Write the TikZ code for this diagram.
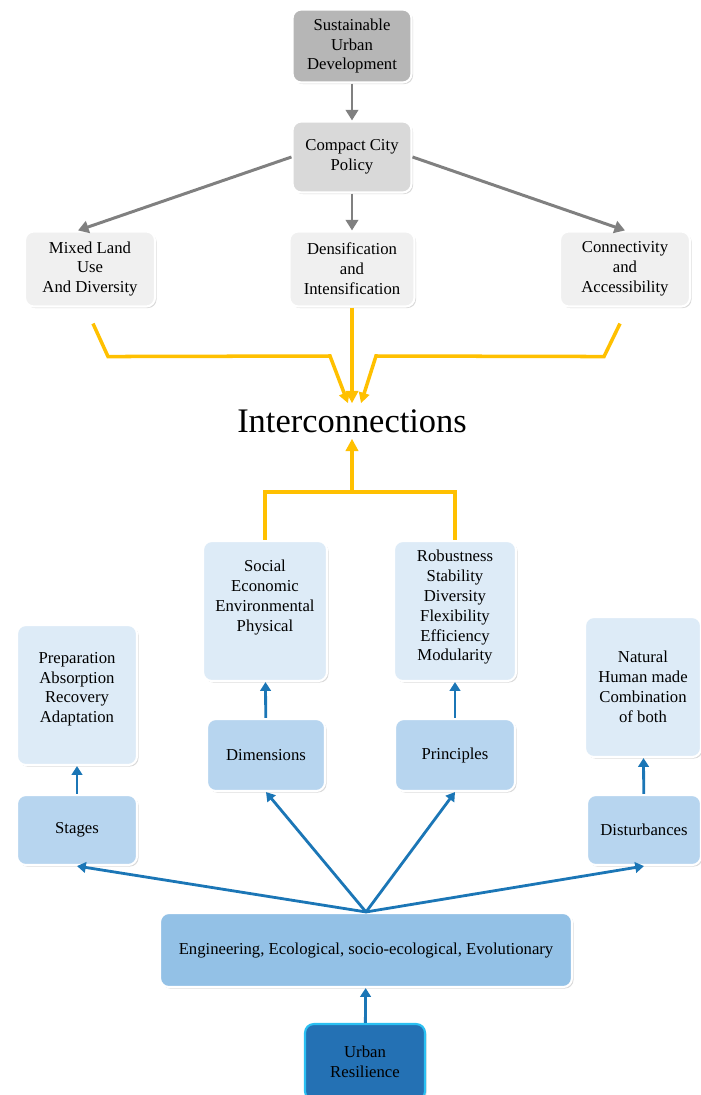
\documentclass[tikz,border=0pt]{standalone}
\usepackage{fontspec}
\setmainfont{Liberation Serif}
\usepackage{tikz}
\usetikzlibrary{positioning,arrows.meta,calc,shadows}
\definecolor{topgray}{HTML}{B6B6B6}
\definecolor{midgray}{HTML}{D9D9D9}
\definecolor{lowgray}{HTML}{F0F0F0}
\definecolor{paleblue}{HTML}{DDEBF7}
\definecolor{softblue}{HTML}{B7D5EF}
\definecolor{baseblue}{HTML}{93C1E6}
\definecolor{deepblue}{HTML}{2471B4}
\definecolor{rimblue}{HTML}{2BC0F2}
\definecolor{linkgray}{HTML}{808080}
\definecolor{gold}{HTML}{FFC000}
\definecolor{linkblue}{HTML}{1B76B6}

\begin{document}
\begin{tikzpicture}[x=0.02cm, y=-0.02cm,
  box/.style={draw=white, line width=1.2pt, rounded corners=5pt, align=center, inner sep=2pt,
    font=\fontsize{9.5}{11.3}\selectfont,
    drop shadow={opacity=0.3, shadow xshift=0.9pt, shadow yshift=-0.9pt}},
  graylink/.style={draw=linkgray, line width=1.7pt, -{Triangle[length=6pt, width=7pt]}},
  goldlink/.style={draw=gold, line width=2pt},
  bluelink/.style={draw=linkblue, line width=1.6pt, -{Triangle[length=5pt, width=6pt]}}]
\useasboundingbox (0,0) rectangle (700,1095);
% compact city side
\node[box, fill=topgray, minimum width=2.38cm, minimum height=1.46cm] (sud) at (352,46) {Sustainable\\ Urban\\ Development};
\node[box, fill=midgray, minimum width=2.38cm, minimum height=1.42cm] (ccp) at (352,157) {Compact City\\ Policy};
\node[box, fill=lowgray, minimum width=2.6cm, minimum height=1.5cm] (mix) at (90,269) {Mixed Land\\ Use\\ And Diversity};
\node[box, fill=lowgray, minimum width=2.5cm, minimum height=1.5cm] (den) at (352,269) {Densification\\ and\\ Intensification};
\node[box, fill=lowgray, minimum width=2.6cm, minimum height=1.5cm] (con) at (625,269) {Connectivity\\ and\\ Accessibility};
\draw[graylink] (sud) -- (ccp);
\draw[graylink] (ccp.west) -- ($(mix.north)+(-12,0)$);
\draw[graylink] (ccp) -- (den);
\draw[graylink] (ccp.east) -- (con.north);
% centre
\node[font=\fontsize{19.6}{22}\selectfont] (inter) at (352,421) {Interconnections};
\coordinate (ya) at ($(mix.south)+(3,16)$);
\coordinate (yb) at ($(con.south)+(-5,16)$);
\draw[goldlink, -{Triangle[length=6pt, width=6pt]}] (ya) -- ++(15,33) -- (330,356) -- ($(inter.north)+(-4,0)$);
\draw[goldlink, -{Triangle[length=6pt, width=6pt]}] (yb) -- ++(-16,33) -- (376,356) -- ($(inter.north)+(9,0)$);
\draw[goldlink, -{Triangle[length=7pt, width=7pt]}] (den) -- (inter.north);
% resilience side
\node[box, fill=paleblue, minimum width=2.48cm, minimum height=2.8cm, text depth=0.62cm] (soc) at (265,611) {Social\\ Economic\\ Environmental\\ Physical};
\node[box, fill=paleblue, minimum width=2.44cm, minimum height=2.8cm, text depth=0.22cm] (rob) at (455,611) {Robustness\\ Stability\\ Diversity\\ Flexibility\\ Efficiency\\ Modularity};
\node[box, fill=paleblue, minimum width=2.4cm, minimum height=2.8cm, text depth=0.3cm] (prep) at (77,695) {Preparation\\ Absorption\\ Recovery\\ Adaptation};
\node[box, fill=paleblue, minimum width=2.32cm, minimum height=2.8cm] (nat) at (643,687) {Natural\\ Human made\\ Combination\\ of both};
\node[box, fill=softblue, minimum width=2.36cm, minimum height=1.44cm] (dim) at (266,755) {Dimensions};
\node[box, fill=softblue, minimum width=2.4cm, minimum height=1.44cm] (prn) at (455,755) {Principles};
\node[box, fill=softblue, minimum width=2.4cm, minimum height=1.4cm] (stg) at (77,830) {Stages};
\node[box, fill=softblue, minimum width=2.28cm, minimum height=1.4cm] (dst) at (644,830) {Disturbances};
\node[box, fill=baseblue, minimum width=8.24cm, minimum height=1.48cm] (eng) at (366,950) {Engineering, Ecological, socio-ecological, Evolutionary};
\node[box, draw=rimblue, fill=deepblue, minimum width=2.4cm, minimum height=1.52cm] (urb) at (365,1062) {Urban\\ Resilience};
\coordinate (jn) at (352,492);
\draw[goldlink] (soc.north) |- (jn) -| (rob.north);
\draw[goldlink, -{Triangle[length=7pt, width=7pt]}] (jn) -- (inter.south);
\draw[bluelink] (dim) -- (soc);
\draw[bluelink] (prn) -- (rob);
\draw[bluelink] (stg) -- (prep);
\draw[bluelink] (dst) -- (nat);
\foreach \t in {stg, dim, prn, dst}
  \draw[bluelink] (eng.north) -- (\t.south);
\draw[bluelink] (urb) -- (eng);
\end{tikzpicture}
\end{document}
